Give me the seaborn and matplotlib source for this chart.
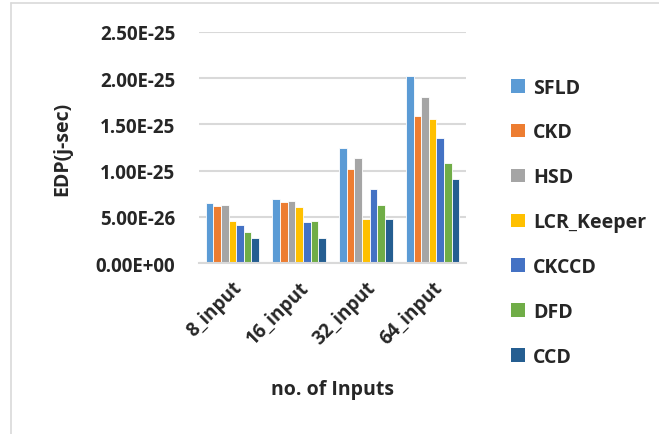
import matplotlib
matplotlib.use("Agg")
import matplotlib.pyplot as plt
import seaborn as sns
import pandas as pd
from matplotlib.lines import Line2D
from matplotlib.patches import Patch

categories = ["8_input", "16_input", "32_input", "64_input"]
series_names = ["SFLD", "CKD", "HSD", "LCR_Keeper", "CKCCD", "DFD", "CCD"]
SFLD = [6.45e-26, 6.95e-26, 1.25e-25, 2.02e-25]
CKD = [6.12e-26, 6.56e-26, 1.02e-25, 1.59e-25]
HSD = [6.23e-26, 6.67e-26, 1.135e-25, 1.80e-25]
LCR_Keeper = [4.54e-26, 6.05e-26, 4.76e-26, 1.557e-25]
CKCCD = [4.14e-26, 4.40e-26, 8.0e-26, 1.355e-25]
DFD = [3.31e-26, 4.54e-26, 6.23e-26, 1.081e-25]
CCD = [2.67e-26, 2.74e-26, 4.72e-26, 9.12e-26]
series_values = [SFLD, CKD, HSD, LCR_Keeper, CKCCD, DFD, CCD]
yticks = [0, 5e-26, 1e-25, 1.5e-25, 2e-25, 2.5e-25]
ytick_labels = ["0.00E+00", "5.00E-26", "1.00E-25", "1.50E-25", "2.00E-25", "2.50E-25"]
colors = ["#5B9BD5", "#ED7D31", "#A5A5A5", "#FFC000", "#4472C4", "#70AD47", "#255E91"]

rows = []
for name, vals in zip(series_names, series_values):
    for c, v in zip(categories, vals):
        rows.append({"cat": c, "series": name, "value": v})
df = pd.DataFrame(rows)

sns.set_theme(style="white")
plt.rcParams["font.family"] = ["Open Sans", "DejaVu Sans"]
plt.rcParams["font.weight"] = "bold"

fig = plt.figure(figsize=(6.59, 4.35), dpi=100)
ax = fig.add_axes([199/659, 1-264/435, 267/659, 231/435])

sns.barplot(data=df, x="cat", y="value", hue="series", order=categories,
            hue_order=series_names, palette=colors, width=0.8, gap=0.0,
            edgecolor="white", linewidth=0.6, ax=ax, legend=False, saturation=1)

ax.set_ylim(0, 2.5e-25)
ax.set_xlim(-0.5, 3.5)
ax.set_yticks(yticks)
ax.set_yticklabels(ytick_labels, fontsize=13.5, fontweight="bold")
ax.set_xticks(range(len(categories)))
ax.set_xticklabels(categories, rotation=45, ha="right", rotation_mode="anchor",
                   fontsize=13.5, fontweight="bold")
ax.tick_params(axis="y", length=0, pad=17)
ax.tick_params(axis="x", length=0, pad=10)
ax.yaxis.grid(True, color="#D9D9D9", linewidth=1.5)
ax.set_axisbelow(True)
for s in ["top", "right", "left"]:
    ax.spines[s].set_visible(False)
ax.spines["bottom"].set_color("#D9D9D9")
ax.spines["bottom"].set_linewidth(1.5)

ax.set_xlabel("no. of Inputs", fontsize=14, fontweight="bold", labelpad=23)
ax.set_ylabel("EDP(j-sec)", fontsize=14, fontweight="bold", labelpad=17)

handles = [Patch(facecolor=c, edgecolor="none") for c in colors]
fig.legend(handles, series_names, loc="upper left", bbox_to_anchor=(494/659, 1-61/435),
           frameon=False, handlelength=0.7, handleheight=0.7,
           handletextpad=0.4, labelspacing=1.28, prop={"weight": "bold", "size": 14})

fig.add_artist(Line2D([11/659, 11/659], [0, 1-4/435], color="#D9D9D9", linewidth=1.2))
fig.add_artist(Line2D([11/659, 1], [1-4/435, 1-4/435], color="#D9D9D9", linewidth=1.2))

fig.savefig("out.png", dpi=100)
